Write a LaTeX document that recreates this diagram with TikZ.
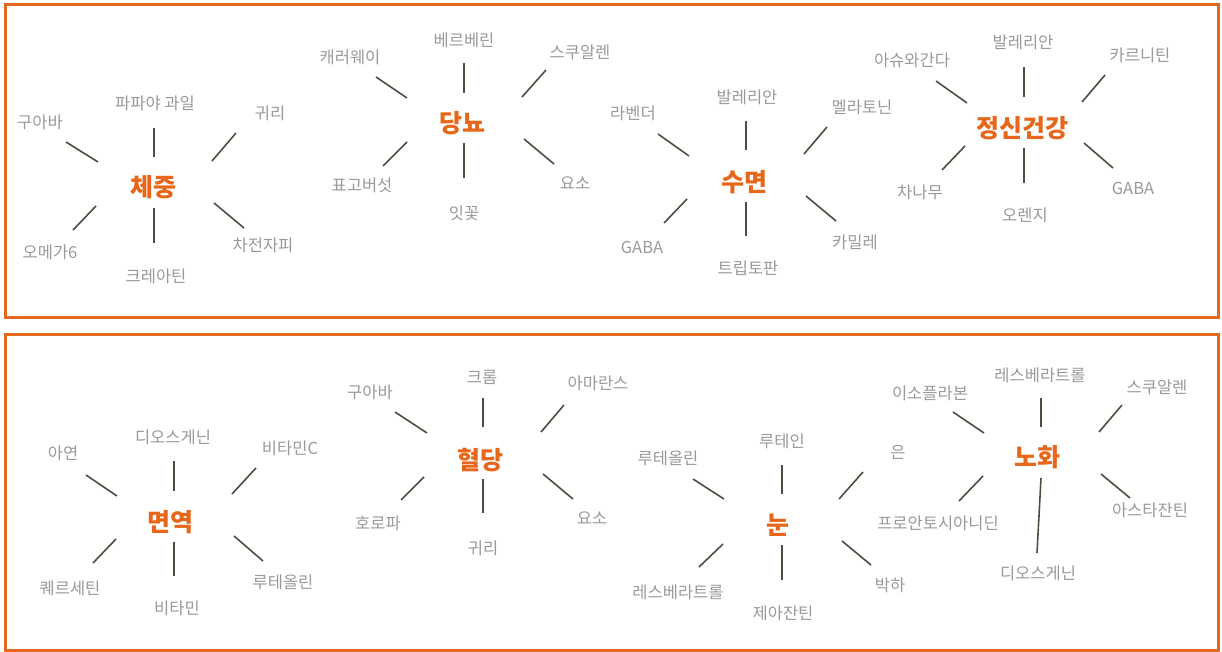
\documentclass[tikz,border=0pt]{standalone}
\usepackage{fontspec}
\newfontfamily\kr{Noto Sans CJK KR}
\definecolor{frameor}{HTML}{E2691F}
\definecolor{titleor}{HTML}{E8661A}
\definecolor{lblgray}{HTML}{9A9A9A}
\definecolor{spokec}{HTML}{4E4E40}
\tikzset{
  panel/.style={draw=frameor, line width=3pt},
  topic/.style={text=titleor, font=\kr\bfseries\fontsize{25}{27}\selectfont, inner sep=0pt},
  lbl/.style={text=lblgray, font=\kr\fontsize{16.5}{18}\selectfont, inner sep=0pt},
  spoke/.style={draw=spokec, line width=1.6pt}
}
\newcommand{\spk}[3]{\coordinate (#1a) at (#2); \coordinate (#1b) at (#3); \draw[spoke] (#1a) -- (#1b);}
\begin{document}
\begin{tikzpicture}[x=1pt,y=-1pt]
\useasboundingbox (0,0) rectangle (1222,652);
\fill[white] (0,0) rectangle (1222,652);
\draw[panel] (5,5) rectangle (1218,317);
\draw[panel] (5,334) rectangle (1218,650);

% ---- 체중
\node[topic] (wt) at (153,187) {체중};
\spk{wt1}{154,128}{154,157}
\spk{wt2}{66,142}{98,162}
\spk{wt3}{212,161}{236,133}
\spk{wt4}{73,230}{96,206}
\spk{wt5}{154,208}{154,243}
\spk{wt6}{214,203}{244,228}
\node[lbl] (wtl1) at (40,122) {구아바};
\node[lbl] (wtl2) at (155,103) {파파야 과일};
\node[lbl] (wtl3) at (270,113) {귀리};
\node[lbl] (wtl4) at (50,252) {오메가6};
\node[lbl] (wtl5) at (156,276) {크레아틴};
\node[lbl] (wtl6) at (263,245) {차전자피};

% ---- 당뇨
\node[topic] (db) at (462,123) {당뇨};
\spk{db1}{464,63}{464,93}
\spk{db2}{376,77}{407,98}
\spk{db3}{522,97}{546,70}
\spk{db4}{383,166}{407,142}
\spk{db5}{464,143}{464,178}
\spk{db6}{524,139}{554,164}
\node[lbl] (dbl1) at (350,57) {캐러웨이};
\node[lbl] (dbl2) at (464,40) {베르베린};
\node[lbl] (dbl3) at (580,52) {스쿠알렌};
\node[lbl] (dbl4) at (362,185) {표고버섯};
\node[lbl] (dbl5) at (464,213) {잇꽃};
\node[lbl] (dbl6) at (575,183) {요소};

% ---- 수면
\node[topic] (sl) at (744,182) {수면};
\spk{sl1}{746,121}{746,150}
\spk{sl2}{658,134}{689,156}
\spk{sl3}{804,154}{827,127}
\spk{sl4}{664,223}{687,199}
\spk{sl5}{746,202}{746,236}
\spk{sl6}{806,196}{836,221}
\node[lbl] (sll1) at (633,113) {라벤더};
\node[lbl] (sll2) at (747,97) {발레리안};
\node[lbl] (sll3) at (862,107) {멜라토닌};
\node[lbl] (sll4) at (642,247) {GABA};
\node[lbl] (sll5) at (748,268) {트립토판};
\node[lbl] (sll6) at (855,242) {카밀레};

% ---- 정신건강
\node[topic] (mh) at (1022,128) {정신건강};
\spk{mh1}{1024,67}{1024,97}
\spk{mh2}{936,81}{967,103}
\spk{mh3}{1082,102}{1105,75}
\spk{mh4}{942,170}{965,146}
\spk{mh5}{1024,148}{1024,183}
\spk{mh6}{1084,143}{1113,168}
\node[lbl] (mhl1) at (912,60) {아슈와간다};
\node[lbl] (mhl2) at (1023,42) {발레리안};
\node[lbl] (mhl3) at (1140,55) {카르니틴};
\node[lbl] (mhl4) at (920,192) {차나무};
\node[lbl] (mhl5) at (1025,215) {오렌지};
\node[lbl] (mhl6) at (1133,188) {GABA};

% ---- 면역
\node[topic] (im) at (170,522) {면역};
\spk{im1}{174,461}{174,491}
\spk{im2}{86,475}{117,496}
\spk{im3}{232,494}{256,468}
\spk{im4}{93,563}{116,539}
\spk{im5}{174,542}{174,576}
\spk{im6}{234,536}{263,561}
\node[lbl] (iml1) at (63,453) {아연};
\node[lbl] (iml2) at (173,437) {디오스게닌};
\node[lbl] (iml3) at (290,448) {비타민C};
\node[lbl] (iml4) at (70,588) {퀘르세틴};
\node[lbl] (iml5) at (177,608) {비타민};
\node[lbl] (iml6) at (283,582) {루테올린};

% ---- 혈당
\node[topic] (bs) at (480,460) {혈당};
\spk{bs1}{483,398}{483,427}
\spk{bs2}{395,412}{427,433}
\spk{bs3}{541,432}{564,405}
\spk{bs4}{401,500}{424,477}
\spk{bs5}{483,479}{483,513}
\spk{bs6}{543,474}{573,499}
\node[lbl] (bsl1) at (370,392) {구아바};
\node[lbl] (bsl2) at (482,377) {크롬};
\node[lbl] (bsl3) at (598,383) {아마란스};
\node[lbl] (bsl4) at (378,523) {호로파};
\node[lbl] (bsl5) at (483,548) {귀리};
\node[lbl] (bsl6) at (592,518) {요소};

% ---- 눈
\node[topic] (ey) at (778,525) {눈};
\spk{ey1}{782,465}{782,494}
\spk{ey2}{693,479}{724,499}
\spk{ey3}{839,499}{863,472}
\spk{ey4}{699,567}{723,544}
\spk{ey5}{782,545}{782,580}
\spk{ey6}{842,541}{871,565}
\node[lbl] (eyl1) at (668,458) {루테올린};
\node[lbl] (eyl2) at (782,441) {루테인};
\node[lbl] (eyl3) at (898,452) {은};
\node[lbl] (eyl4) at (678,592) {레스베라트롤};
\node[lbl] (eyl5) at (783,613) {제아잔틴};
\node[lbl] (eyl6) at (890,585) {박하};

% ---- 노화
\node[topic] (ag) at (1037,457) {노화};
\spk{ag1}{1041,398}{1041,427}
\spk{ag2}{953,412}{984,433}
\spk{ag3}{1099,432}{1122,405}
\spk{ag4}{959,501}{983,476}
\spk{ag5}{1041,478}{1037,553}
\spk{ag6}{1101,474}{1130,498}
\node[lbl] (agl1) at (930,393) {이소플라본};
\node[lbl] (agl2) at (1040,375) {레스베라트롤};
\node[lbl] (agl3) at (1157,387) {스쿠알렌};
\node[lbl] (agl4) at (938,523) {프로안토시아니딘};
\node[lbl] (agl5) at (1038,573) {디오스게닌};
\node[lbl] (agl6) at (1150,510) {아스타잔틴};
\end{tikzpicture}
\end{document}
